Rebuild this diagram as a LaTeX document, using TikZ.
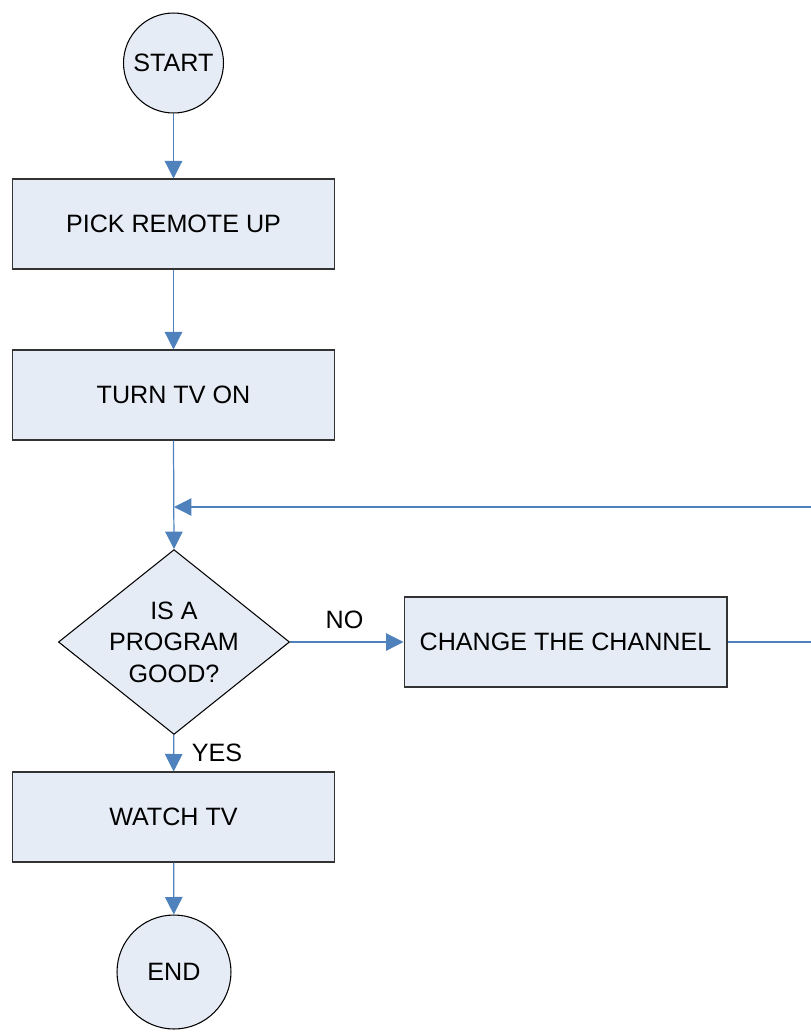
\documentclass[tikz,border=0pt]{standalone}
\usepackage{fontspec}
\setmainfont{Liberation Sans}
\usetikzlibrary{shapes.geometric,arrows.meta}
\definecolor{boxfill}{RGB}{230,236,246}
\definecolor{flowblue}{RGB}{79,129,189}

\begin{document}
\begin{tikzpicture}[x=0.02cm,y=-0.02cm,
        every node/.style={font=\fontsize{14.3}{18}\selectfont, inner sep=0pt},
        stepbox/.style={draw=black!80, fill=boxfill, line width=0.6pt, minimum width=6.46cm, minimum height=1.8cm},
        termnode/.style={draw=black, fill=boxfill, line width=0.6pt, circle},
        testnode/.style={draw=black, fill=boxfill, line width=0.6pt, diamond, aspect=1.25, minimum width=4.5cm, minimum height=3.6cm, align=center},
        flow/.style={draw=flowblue, line width=0.7pt, -{Triangle[width=0.35cm,length=0.35cm]}},
        flowline/.style={draw=flowblue, line width=0.7pt}]
        \useasboundingbox (0,0) rectangle (811,1032);
        \clip (0,0) rectangle (811,1032);
        % nodes
        \node [termnode, minimum size=2cm] (start) at (173.5,63) {START};
        \node [stepbox] (pick) at (173.5,224) {PICK REMOTE UP};
        \node [stepbox] (turnon) at (173.5,395) {TURN TV ON};
        \node [testnode] (good) at (174,642) {IS A\\PROGRAM\\GOOD?};
        \node [stepbox] (change) at (565.5,642) {CHANGE THE CHANNEL};
        \node [stepbox] (watch) at (173.5,817) {WATCH TV};
        \node [termnode, minimum size=2.28cm] (end) at (174,972) {END};
        \coordinate (merge) at (174,507);
        \coordinate (outright) at (813,642);
        \coordinate (backtop) at (813,507);
        % connectors
        \draw [flow] (start) -- (pick);
        \draw [flow] (pick) -- (turnon);
        \draw [flow] (turnon.south) -- (good.north);
        \draw [flow] (good) -- node [above=7pt, pos=0.48] {NO} (change);
        \draw [flow] (good) -- node [right=10pt, pos=0.5] {YES} (watch);
        \draw [flow] (watch) -- (end);
        \draw [flowline] (change.east) -- (outright) -- (backtop);
        \draw [flow] (backtop) -- (merge);
\end{tikzpicture}
\end{document}
